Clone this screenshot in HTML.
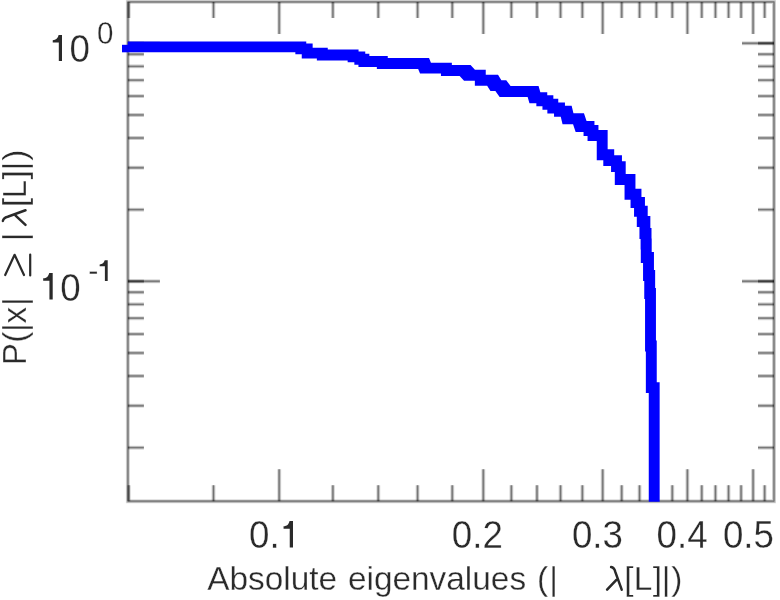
<!DOCTYPE html>
<html><head><meta charset="utf-8"><style>html,body{margin:0;padding:0;background:#fff;width:780px;height:600px;overflow:hidden}svg{display:block;will-change:transform}text{font-family:"Liberation Sans",sans-serif}</style></head>
<body><svg width="780" height="600" viewBox="0 0 780 600"><defs><clipPath id="c"><rect x="0" y="0" width="780" height="501.7"/></clipPath></defs><g><path d="M127.9 1.9H774.0V501.2H127.9Z" fill="none" stroke="#000" stroke-opacity="0.15" stroke-width="4.0"/><path d="M127.9 1.9H774.0V501.2H127.9Z" fill="none" stroke="#000" stroke-opacity="0.25" stroke-width="2.4"/><path d="M127.9 1.9H774.0V501.2H127.9Z" fill="none" stroke="#000" stroke-opacity="0.3" stroke-width="1.0"/><path d="M128.79 501.2V485.20M128.79 1.9V17.90M213.50 501.2V485.20M213.50 1.9V17.90M332.88 501.2V485.20M332.88 1.9V17.90M378.27 501.2V485.20M378.27 1.9V17.90M417.59 501.2V485.20M417.59 1.9V17.90M452.27 501.2V485.20M452.27 1.9V17.90M511.36 501.2V485.20M511.36 1.9V17.90M536.98 501.2V485.20M536.98 1.9V17.90M560.55 501.2V485.20M560.55 1.9V17.90M582.37 501.2V485.20M582.37 1.9V17.90M621.69 501.2V485.20M621.69 1.9V17.90M639.54 501.2V485.20M639.54 1.9V17.90M656.37 501.2V485.20M656.37 1.9V17.90M672.29 501.2V485.20M672.29 1.9V17.90M701.76 501.2V485.20M701.76 1.9V17.90M715.46 501.2V485.20M715.46 1.9V17.90M728.55 501.2V485.20M728.55 1.9V17.90M741.08 501.2V485.20M741.08 1.9V17.90M764.65 501.2V485.20M764.65 1.9V17.90M127.9 447.65H143.90M774.0 447.65H758.00M127.9 405.75H143.90M774.0 405.75H758.00M127.9 376.01H143.90M774.0 376.01H758.00M127.9 352.95H143.90M774.0 352.95H758.00M127.9 334.10H143.90M774.0 334.10H758.00M127.9 318.17H143.90M774.0 318.17H758.00M127.9 304.36H143.90M774.0 304.36H758.00M127.9 292.19H143.90M774.0 292.19H758.00M127.9 281.30H143.90M774.0 281.30H758.00M127.9 209.65H143.90M774.0 209.65H758.00M127.9 167.75H143.90M774.0 167.75H758.00M127.9 138.01H143.90M774.0 138.01H758.00M127.9 114.95H143.90M774.0 114.95H758.00M127.9 96.10H143.90M774.0 96.10H758.00M127.9 80.17H143.90M774.0 80.17H758.00M127.9 66.36H143.90M774.0 66.36H758.00M127.9 54.19H143.90M774.0 54.19H758.00M127.9 43.30H143.90M774.0 43.30H758.00" fill="none" stroke="#000" stroke-opacity="0.15" stroke-width="4.0"/><path d="M128.79 501.2V485.20M128.79 1.9V17.90M213.50 501.2V485.20M213.50 1.9V17.90M332.88 501.2V485.20M332.88 1.9V17.90M378.27 501.2V485.20M378.27 1.9V17.90M417.59 501.2V485.20M417.59 1.9V17.90M452.27 501.2V485.20M452.27 1.9V17.90M511.36 501.2V485.20M511.36 1.9V17.90M536.98 501.2V485.20M536.98 1.9V17.90M560.55 501.2V485.20M560.55 1.9V17.90M582.37 501.2V485.20M582.37 1.9V17.90M621.69 501.2V485.20M621.69 1.9V17.90M639.54 501.2V485.20M639.54 1.9V17.90M656.37 501.2V485.20M656.37 1.9V17.90M672.29 501.2V485.20M672.29 1.9V17.90M701.76 501.2V485.20M701.76 1.9V17.90M715.46 501.2V485.20M715.46 1.9V17.90M728.55 501.2V485.20M728.55 1.9V17.90M741.08 501.2V485.20M741.08 1.9V17.90M764.65 501.2V485.20M764.65 1.9V17.90M127.9 447.65H143.90M774.0 447.65H758.00M127.9 405.75H143.90M774.0 405.75H758.00M127.9 376.01H143.90M774.0 376.01H758.00M127.9 352.95H143.90M774.0 352.95H758.00M127.9 334.10H143.90M774.0 334.10H758.00M127.9 318.17H143.90M774.0 318.17H758.00M127.9 304.36H143.90M774.0 304.36H758.00M127.9 292.19H143.90M774.0 292.19H758.00M127.9 281.30H143.90M774.0 281.30H758.00M127.9 209.65H143.90M774.0 209.65H758.00M127.9 167.75H143.90M774.0 167.75H758.00M127.9 138.01H143.90M774.0 138.01H758.00M127.9 114.95H143.90M774.0 114.95H758.00M127.9 96.10H143.90M774.0 96.10H758.00M127.9 80.17H143.90M774.0 80.17H758.00M127.9 66.36H143.90M774.0 66.36H758.00M127.9 54.19H143.90M774.0 54.19H758.00M127.9 43.30H143.90M774.0 43.30H758.00" fill="none" stroke="#000" stroke-opacity="0.25" stroke-width="2.4"/><path d="M128.79 501.2V485.20M128.79 1.9V17.90M213.50 501.2V485.20M213.50 1.9V17.90M332.88 501.2V485.20M332.88 1.9V17.90M378.27 501.2V485.20M378.27 1.9V17.90M417.59 501.2V485.20M417.59 1.9V17.90M452.27 501.2V485.20M452.27 1.9V17.90M511.36 501.2V485.20M511.36 1.9V17.90M536.98 501.2V485.20M536.98 1.9V17.90M560.55 501.2V485.20M560.55 1.9V17.90M582.37 501.2V485.20M582.37 1.9V17.90M621.69 501.2V485.20M621.69 1.9V17.90M639.54 501.2V485.20M639.54 1.9V17.90M656.37 501.2V485.20M656.37 1.9V17.90M672.29 501.2V485.20M672.29 1.9V17.90M701.76 501.2V485.20M701.76 1.9V17.90M715.46 501.2V485.20M715.46 1.9V17.90M728.55 501.2V485.20M728.55 1.9V17.90M741.08 501.2V485.20M741.08 1.9V17.90M764.65 501.2V485.20M764.65 1.9V17.90M127.9 447.65H143.90M774.0 447.65H758.00M127.9 405.75H143.90M774.0 405.75H758.00M127.9 376.01H143.90M774.0 376.01H758.00M127.9 352.95H143.90M774.0 352.95H758.00M127.9 334.10H143.90M774.0 334.10H758.00M127.9 318.17H143.90M774.0 318.17H758.00M127.9 304.36H143.90M774.0 304.36H758.00M127.9 292.19H143.90M774.0 292.19H758.00M127.9 281.30H143.90M774.0 281.30H758.00M127.9 209.65H143.90M774.0 209.65H758.00M127.9 167.75H143.90M774.0 167.75H758.00M127.9 138.01H143.90M774.0 138.01H758.00M127.9 114.95H143.90M774.0 114.95H758.00M127.9 96.10H143.90M774.0 96.10H758.00M127.9 80.17H143.90M774.0 80.17H758.00M127.9 66.36H143.90M774.0 66.36H758.00M127.9 54.19H143.90M774.0 54.19H758.00M127.9 43.30H143.90M774.0 43.30H758.00" fill="none" stroke="#000" stroke-opacity="0.3" stroke-width="1.0"/><path d="M279.20 501.2V469.20M279.20 1.9V33.90M483.30 501.2V469.20M483.30 1.9V33.90M602.69 501.2V469.20M602.69 1.9V33.90M687.40 501.2V469.20M687.40 1.9V33.90M753.10 501.2V469.20M753.10 1.9V33.90M127.9 281.30H159.90M774.0 281.30H742.00M127.9 43.30H159.90M774.0 43.30H742.00" fill="none" stroke="#000" stroke-opacity="0.15" stroke-width="4.0"/><path d="M279.20 501.2V469.20M279.20 1.9V33.90M483.30 501.2V469.20M483.30 1.9V33.90M602.69 501.2V469.20M602.69 1.9V33.90M687.40 501.2V469.20M687.40 1.9V33.90M753.10 501.2V469.20M753.10 1.9V33.90M127.9 281.30H159.90M774.0 281.30H742.00M127.9 43.30H159.90M774.0 43.30H742.00" fill="none" stroke="#000" stroke-opacity="0.25" stroke-width="2.4"/><path d="M279.20 501.2V469.20M279.20 1.9V33.90M483.30 501.2V469.20M483.30 1.9V33.90M602.69 501.2V469.20M602.69 1.9V33.90M687.40 501.2V469.20M687.40 1.9V33.90M753.10 501.2V469.20M753.10 1.9V33.90M127.9 281.30H159.90M774.0 281.30H742.00M127.9 43.30H159.90M774.0 43.30H742.00" fill="none" stroke="#000" stroke-opacity="0.3" stroke-width="1.0"/></g><path d="M127.70 41.40L306.25 41.40L306.25 52.30L127.70 52.30ZM295.35 41.40L306.25 41.40L306.25 54.30L295.35 54.30ZM295.35 43.40L312.65 43.40L312.65 54.30L295.35 54.30ZM301.75 43.40L312.65 43.40L312.65 58.55L301.75 58.55ZM301.75 47.65L327.75 47.65L327.75 58.55L301.75 58.55ZM316.85 47.65L327.75 47.65L327.75 60.45L316.85 60.45ZM316.85 49.55L358.55 49.55L358.55 60.45L316.85 60.45ZM347.65 49.55L358.55 49.55L358.55 62.30L347.65 62.30ZM347.65 51.40L365.25 51.40L365.25 62.30L347.65 62.30ZM354.35 51.40L365.25 51.40L365.25 64.65L354.35 64.65ZM354.35 53.75L369.35 53.75L369.35 64.65L354.35 64.65ZM358.45 53.75L369.35 53.75L369.35 66.95L358.45 66.95ZM358.45 56.05L387.75 56.05L387.75 66.95L358.45 66.95ZM376.85 56.05L387.75 56.05L387.75 68.95L376.85 68.95ZM376.85 58.05L429.05 58.05L429.05 68.95L376.85 68.95ZM418.15 58.05L429.05 58.05L430.95 62.65L430.95 73.55L420.05 73.55L418.15 68.95ZM420.05 62.65L451.85 62.65L451.85 73.55L420.05 73.55ZM440.95 62.65L451.85 62.65L451.85 75.95L440.95 75.95ZM440.95 65.05L470.55 65.05L470.55 75.95L440.95 75.95ZM459.65 65.05L470.55 65.05L474.95 69.80L474.95 80.70L464.05 80.70L459.65 75.95ZM464.05 69.80L485.75 69.80L485.75 80.70L464.05 80.70ZM474.85 69.80L485.75 69.80L485.75 85.75L474.85 85.75ZM474.85 74.85L498.05 74.85L498.05 85.75L474.85 85.75ZM487.15 74.85L498.05 74.85L501.35 80.20L501.35 91.10L490.45 91.10L487.15 85.75ZM490.45 80.20L506.25 80.20L506.25 91.10L490.45 91.10ZM495.35 80.20L506.25 80.20L510.55 86.05L510.55 96.95L499.65 96.95L495.35 91.10ZM499.65 86.05L538.55 86.05L538.55 96.95L499.65 96.95ZM527.65 86.05L538.55 86.05L540.35 92.25L540.35 103.15L529.45 103.15L527.65 96.95ZM529.45 92.25L547.25 92.25L547.25 103.15L529.45 103.15ZM536.35 92.25L547.25 92.25L547.25 106.20L536.35 106.20ZM536.35 95.30L553.35 95.30L553.35 106.20L536.35 106.20ZM542.45 95.30L553.35 95.30L553.35 109.65L542.45 109.65ZM542.45 98.75L558.25 98.75L558.25 109.65L542.45 109.65ZM547.35 98.75L558.25 98.75L558.25 113.45L547.35 113.45ZM547.35 102.55L564.95 102.55L564.95 113.45L547.35 113.45ZM554.05 102.55L564.95 102.55L564.95 116.75L554.05 116.75ZM554.05 105.85L571.65 105.85L571.65 116.75L554.05 116.75ZM560.75 105.85L571.65 105.85L573.45 113.25L573.45 124.15L562.55 124.15L560.75 116.75ZM562.55 113.25L583.95 113.25L583.95 124.15L562.55 124.15ZM573.05 113.25L583.95 113.25L586.55 121.05L586.55 131.95L575.65 131.95L573.05 124.15ZM575.65 121.05L594.45 121.05L594.45 131.95L575.65 131.95ZM583.55 121.05L594.45 121.05L594.45 135.95L583.55 135.95ZM583.55 125.05L598.45 125.05L598.45 135.95L583.55 135.95ZM587.55 125.05L598.45 125.05L598.45 140.95L587.55 140.95ZM587.55 130.05L607.65 130.05L607.65 140.95L587.55 140.95ZM596.75 130.05L607.65 130.05L607.65 160.20L596.75 160.20ZM596.75 149.30L614.20 149.30L614.20 160.20L596.75 160.20ZM603.30 149.30L614.20 149.30L614.20 166.10L603.30 166.10ZM603.30 155.20L621.95 155.20L621.95 166.10L603.30 166.10ZM611.05 155.20L621.95 155.20L621.95 172.10L611.05 172.10ZM611.05 161.20L625.70 161.20L625.70 172.10L611.05 172.10ZM614.80 161.20L625.70 161.20L625.70 184.95L614.80 184.95ZM614.80 174.05L635.45 174.05L635.45 184.95L614.80 184.95ZM624.55 174.05L635.45 174.05L635.45 199.70L624.55 199.70ZM624.55 188.80L641.45 188.80L641.45 199.70L624.55 199.70ZM630.55 188.80L641.45 188.80L641.45 207.95L630.55 207.95ZM630.55 197.05L644.95 197.05L644.95 207.95L630.55 207.95ZM634.05 197.05L644.95 197.05L644.95 216.70L634.05 216.70ZM634.05 205.80L647.70 205.80L647.70 216.70L634.05 216.70ZM636.80 205.80L647.70 205.80L647.70 226.90L636.80 226.90ZM636.80 216.00L650.35 216.00L650.35 226.90L636.80 226.90ZM639.45 216.00L650.35 216.00L650.35 238.90L639.45 238.90ZM639.45 228.00L651.50 228.00L651.50 238.90L639.45 238.90ZM640.60 228.00L651.50 228.00L651.50 249.45L640.60 249.45ZM640.60 238.55L651.70 238.55L651.70 249.45L640.60 249.45ZM640.80 238.55L651.70 238.55L651.70 262.95L640.80 262.95ZM640.80 252.05L653.95 252.05L653.95 262.95L640.80 262.95ZM643.05 252.05L653.95 252.05L653.95 280.95L643.05 280.95ZM643.05 270.05L655.15 270.05L655.15 280.95L643.05 280.95ZM644.25 270.05L655.15 270.05L655.15 298.95L644.25 298.95ZM644.25 288.05L655.95 288.05L655.95 298.95L644.25 298.95ZM645.05 288.05L655.95 288.05L655.95 351.45L645.05 351.45ZM645.05 340.55L656.75 340.55L656.75 351.45L645.05 351.45ZM645.85 340.55L656.75 340.55L656.75 393.05L645.85 393.05ZM645.85 382.15L659.65 382.15L659.65 393.05L645.85 393.05ZM648.75 382.15L659.65 382.15L659.65 525.45L648.75 525.45Z" fill="#0000ff" clip-path="url(#c)"/><rect x="122" y="44.8" width="6.2" height="7.5" fill="#0000ff"/><g fill="#2a2a2a" stroke="#fff" stroke-width="0.3" font-family="Liberation Sans, sans-serif"><path d="M62.00 35.00L62.00 60.90L58.81 60.90L58.81 42.57L52.74 42.57L52.74 40.18C56.22 39.98 57.62 38.49 58.61 35.00ZM52.70 273.00L52.70 299.60L49.43 299.60L49.43 280.78L43.19 280.78L43.19 278.32C46.77 278.12 48.20 276.58 49.22 273.00ZM107.70 260.20L107.70 281.10L104.89 281.10L104.89 266.31L99.66 266.31L99.66 264.38C102.47 264.22 103.92 263.01 104.73 260.20ZM293.00 521.00L293.00 547.40L289.75 547.40L289.75 528.72L283.56 528.72L283.56 526.28C287.11 526.08 288.53 524.55 289.55 521.00Z" fill="#2a2a2a" stroke="none"/><text transform="translate(69.50,61.80) scale(0.98,1.05)" font-size="37.5">0</text><text transform="translate(96.90,43.60) scale(0.97,1.04)" font-size="30.5">0</text><text transform="translate(60.20,300.80) scale(0.98,1.05)" font-size="37.5">0</text><text x="88.20" y="281.10" font-size="30.5">-</text><text transform="translate(451.80,547.80) scale(0.98,1.05)" font-size="37.5">0.2</text><text transform="translate(571.90,547.80) scale(0.98,1.05)" font-size="37.5">0.3</text><text transform="translate(656.60,547.80) scale(0.98,1.05)" font-size="37.5">0.4</text><text transform="translate(722.90,547.80) scale(0.98,1.05)" font-size="37.5">0.5</text><text transform="translate(249.00,547.80) scale(0.98,1.05)" font-size="37.5">0.</text><text x="207.20" y="590.40" font-size="33.4">Absolute</text><text x="347.90" y="590.40" font-size="33.4">eigenvalues</text><text x="537.00" y="590.40" font-size="33.4">(</text><text x="549.30" y="590.40" font-size="33.4">|</text><text x="624.30" y="590.40" font-size="33.4">[</text><text x="633.70" y="590.40" font-size="33.4">L</text><text x="652.70" y="590.40" font-size="33.4">]</text><text x="661.70" y="590.40" font-size="33.4">|</text><text x="671.30" y="590.40" font-size="33.4">)</text><path d="M611.1 567.1Q614.3 567.6 615.3 571.9L621.7 589.7M616.4 579.8L607.1 589.7" fill="none" stroke="#2a2a2a" stroke-width="2.5" stroke-linecap="round"/><g transform="translate(26,366.0) rotate(-90)"><text x="0.70" y="0.00" font-size="33.4">P</text><text x="23.30" y="0.00" font-size="33.4">(</text><text x="34.00" y="0.00" font-size="33.4">|</text><text x="42.40" y="0.00" font-size="33.4">x</text><text x="60.00" y="0.00" font-size="33.4">|</text><text x="124.70" y="0.00" font-size="33.4">|</text><text x="159.00" y="0.00" font-size="33.4">[</text><text x="167.50" y="0.00" font-size="33.4">L</text><text x="186.60" y="0.00" font-size="33.4">]</text><text x="195.50" y="0.00" font-size="33.4">|</text><text x="205.30" y="0.00" font-size="33.4">)</text><path d="M145.10 -23.10Q148.30 -22.60 149.30 -18.30L155.70 -0.50M150.40 -10.40L141.10 -0.50" fill="none" stroke="#2a2a2a" stroke-width="2.5" stroke-linecap="round"/></g><path d="M5.2 275.0L14.6 254.8L24.0 275.0M30.2 254.6V275.4" fill="none" stroke="#2a2a2a" stroke-width="2.2" stroke-linecap="round" stroke-linejoin="round"/></g></svg></body></html>
